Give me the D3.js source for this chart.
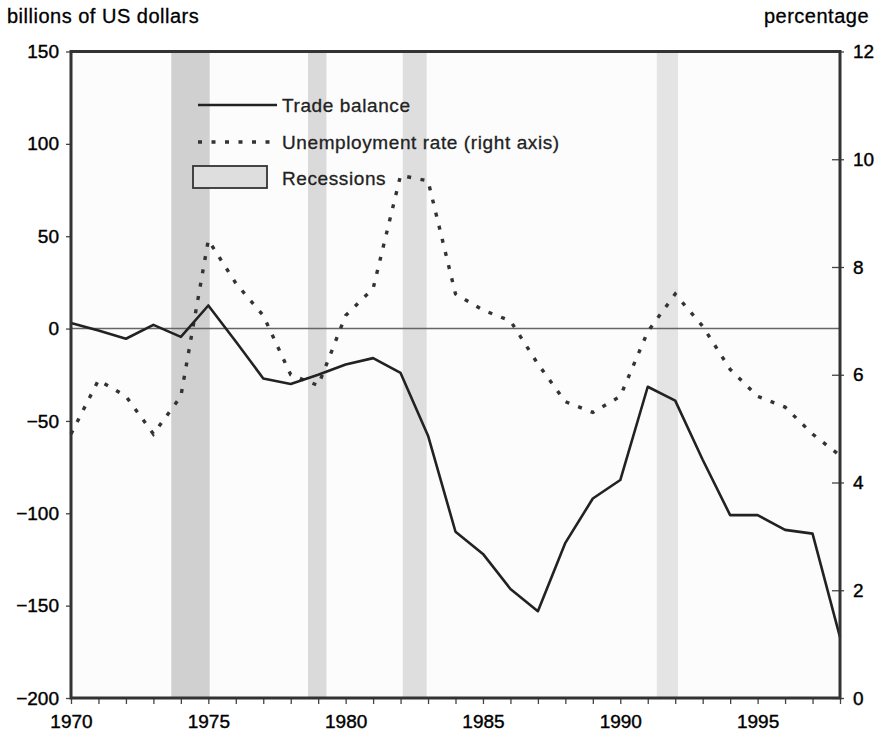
<!DOCTYPE html>
<html>
<head>
<meta charset="utf-8">
<script src="https://cdn.jsdelivr.net/npm/d3@7"></script>
<style>
  html, body { margin: 0; padding: 0; background: #fff; }
  svg { display: block; font-family: "Liberation Sans", Arial, Helvetica, sans-serif; }
</style>
</head>
<body>
<svg id="chart" width="879" height="743"></svg>
<script>
// ---- data ----
const years = [1970,1971,1972,1973,1974,1975,1976,1977,1978,1979,1980,1981,1982,1983,1984,
               1985,1986,1987,1988,1989,1990,1991,1992,1993,1994,1995,1996,1997,1998];
const tradeBalance = [3,-1,-5.5,2,-4.5,12.5,-7,-27,-30,-25,-19.5,-16,-24,-58,-110,
                      -122,-141,-153,-116,-92,-82,-31.5,-39,-71,-101,-101,-109,-111,-167];
const unemployment = [4.9,5.9,5.6,4.9,5.6,8.5,7.7,7.1,6.0,5.8,7.1,7.6,9.7,9.6,7.5,
                      7.2,7.0,6.2,5.5,5.3,5.6,6.8,7.5,6.9,6.1,5.6,5.4,4.9,4.5];
const recessionStart = [1973.65,1978.63,1982.08,1991.33];
const recessionEnd   = [1975.05,1979.30,1982.95,1992.10];
const leftTicks  = [150,100,50,0,-50,-100,-150,-200];
const rightTicks = [12,10,8,6,4,2,0];
const xLabelYears = [1970,1975,1980,1985,1990,1995];
const legendLabels = ["Trade balance","Unemployment rate (right axis)","Recessions"];
const leftTitle = "billions of US dollars";
const rightTitle = "percentage";

// ---- styles ----
const bandShades = ["#d0d0d0","#dadada","#dedede","#e4e4e4"];

const svg = d3.select("#chart");
const L = 71, R = 840, T = 51.5, B = 698;

const x = d3.scaleLinear().domain([1970,1998]).range([L,R]);
const yL = d3.scaleLinear().domain([-200,150]).range([B,T]);
const yR = d3.scaleLinear().domain([0,12]).range([B,T]);

// plot background
svg.append("rect").attr("x",L).attr("y",T).attr("width",R-L).attr("height",B-T).attr("fill","#fcfcfc");

// recession bands
svg.append("g").selectAll("rect").data(recessionStart).join("rect")
  .attr("x", d => x(d))
  .attr("y", T)
  .attr("width", (d,i) => x(recessionEnd[i]) - x(d))
  .attr("height", B - T)
  .attr("fill", (d,i) => bandShades[i]);

// zero line
svg.append("line").attr("x1",L).attr("x2",R).attr("y1",yL(0)).attr("y2",yL(0))
  .attr("stroke","#666").attr("stroke-width",1.6);

// lines
const lineTB = d3.line().x((d,i)=>x(years[i])).y(d=>yL(d));
const lineU  = d3.line().x((d,i)=>x(years[i])).y(d=>yR(d));

svg.append("path").datum(unemployment).attr("d",lineU)
  .attr("fill","none").attr("stroke","#333").attr("stroke-width",3.4)
  .attr("stroke-dasharray","4,9.5");

svg.append("path").datum(tradeBalance).attr("d",lineTB)
  .attr("fill","none").attr("stroke","#222").attr("stroke-width",2.6)
  .attr("stroke-linejoin","round");

// axes
const fontSize = 19;
const axL = svg.append("g").attr("transform",`translate(${L},0)`)
  .call(d3.axisLeft(yL).tickValues(leftTicks).tickSize(5).tickPadding(7));
const axR = svg.append("g").attr("transform",`translate(${R},0)`)
  .call(d3.axisRight(yR).tickValues(rightTicks).tickSize(4).tickPadding(9));
axR.selectAll(".tick line").attr("x1",-8).attr("x2",4);
const axB = svg.append("g").attr("transform",`translate(0,${B})`)
  .call(d3.axisBottom(x).tickValues(d3.range(1970,1999)).tickSize(6)
        .tickFormat(d => xLabelYears.includes(d) ? String(d) : ""));
axB.selectAll(".tick text").attr("dy","1.1em");

[axL,axR,axB].forEach(a => {
  a.select(".domain").remove();
  a.selectAll(".tick line").attr("stroke","#444").attr("stroke-width",1.3);
  a.selectAll(".tick text").attr("fill","#000").attr("font-size",fontSize)
    .attr("stroke","#000").attr("stroke-width",0.4)
    .attr("font-family","'Liberation Sans', Arial, sans-serif");
});

// frame
svg.append("rect").attr("x",L).attr("y",T).attr("width",R-L).attr("height",B-T)
  .attr("fill","none").attr("stroke","#333").attr("stroke-width",3);

// axis titles
svg.append("text").attr("x",7).attr("y",23).attr("font-size",20)
  .attr("letter-spacing","0.5px").attr("fill","#000")
  .attr("stroke","#000").attr("stroke-width",0.3).text(leftTitle);
svg.append("text").attr("x",869).attr("y",23).attr("font-size",20).attr("text-anchor","end")
  .attr("letter-spacing","0.5px").attr("fill","#000")
  .attr("stroke","#000").attr("stroke-width",0.3).text(rightTitle);

// legend
const lg = svg.append("g");
lg.append("line").attr("x1",198).attr("x2",277).attr("y1",105).attr("y2",105)
  .attr("stroke","#222").attr("stroke-width",2.6);
lg.append("line").attr("x1",198).attr("x2",277).attr("y1",142).attr("y2",142)
  .attr("stroke","#333").attr("stroke-width",3.4).attr("stroke-dasharray","4,9.5");
lg.append("rect").attr("x",193).attr("y",166).attr("width",74).attr("height",22)
  .attr("fill","#dedede").attr("stroke","#333").attr("stroke-width",1.8);
[105,142,178].forEach((yy,i) => {
  lg.append("text").attr("x",282).attr("y",yy).attr("dy","0.35em")
    .attr("font-size",19).attr("letter-spacing","0.6px").attr("fill","#222")
    .attr("stroke","#222").attr("stroke-width",0.3)
    .text(legendLabels[i]);
});
</script>
</body>
</html>
